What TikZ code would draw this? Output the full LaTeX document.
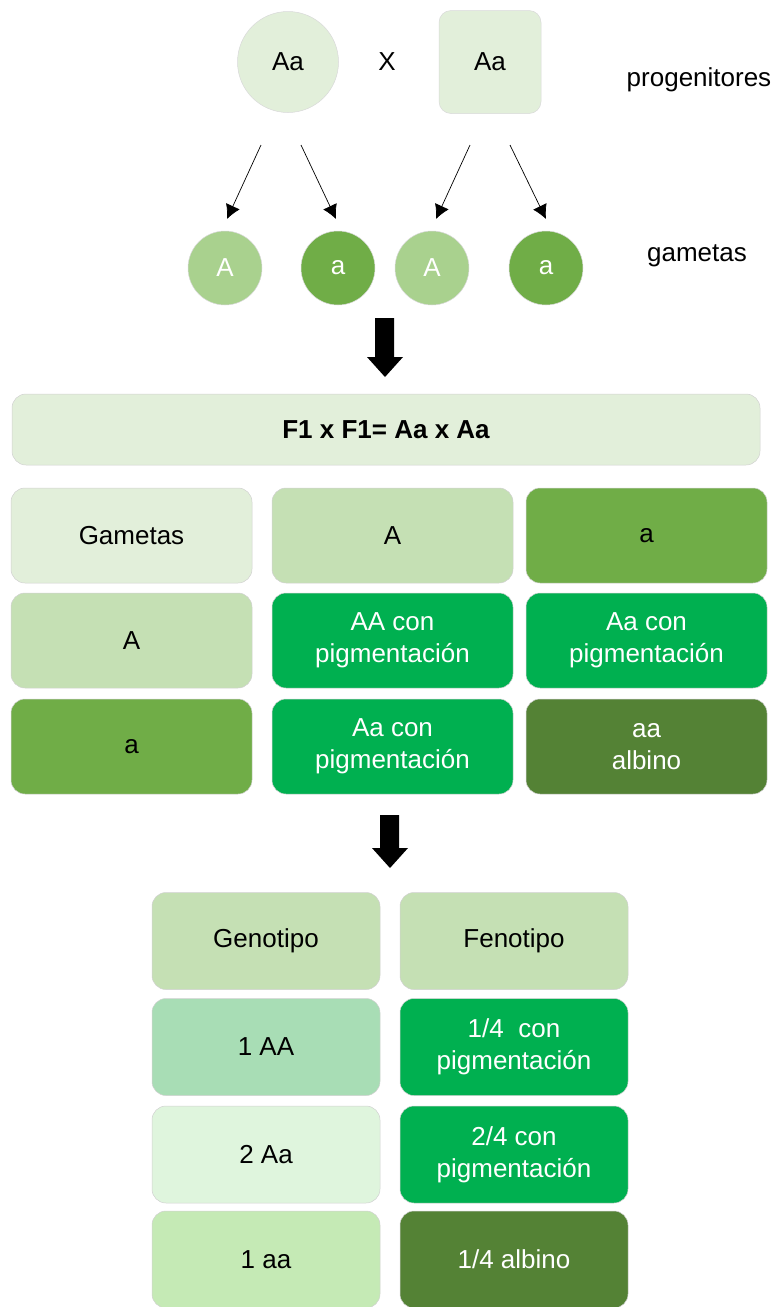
\documentclass[tikz,border=0pt]{standalone}
\usepackage{fontspec}
\setmainfont{Liberation Sans}
\usetikzlibrary{arrows.meta}
\definecolor{pale}{HTML}{E2EFDA}
\definecolor{light}{HTML}{C5E0B4}
\definecolor{mid}{HTML}{A9D18E}
\definecolor{grn}{HTML}{70AD47}
\definecolor{bright}{HTML}{00B050}
\definecolor{dark}{HTML}{548235}
\definecolor{mint}{HTML}{A8DDB5}
\definecolor{paleb}{HTML}{DFF5DD}
\definecolor{lightb}{HTML}{C5EAB5}
\begin{document}
\begin{tikzpicture}[x=1pt,y=-1pt,
  txt/.style={font=\fontsize{26}{32}\selectfont},
  box/.style={rectangle, rounded corners=14pt, draw=black!18, line width=0.5pt, inner sep=0pt, align=center, txt},
  cell/.style={box, minimum width=241pt, minimum height=95pt},
  bcell/.style={box, minimum width=228pt, minimum height=97pt},
  gam/.style={circle, draw=black!15, line width=0.5pt, minimum size=74pt, inner sep=0pt, txt, text=white},
  thin arrow/.style={line width=0.7pt, -{Latex[length=14pt,width=15pt]}},
  wtext/.style={text=white}]
\useasboundingbox (0,0) rectangle (776,1307);
% parents
\node[circle, draw=black!15, line width=0.5pt, fill=pale, minimum size=101pt, inner sep=0pt, txt] (p1) at (288,62) {Aa};
\node[txt] (x) at (387,62) {X};
\node[rectangle, rounded corners=12pt, draw=black!15, line width=0.5pt, fill=pale, minimum width=102pt, minimum height=103pt, inner sep=0pt, txt] (p2) at (490,62) {Aa};
\node[txt] (prog) at (699,80) {progenitores};
% gametes
\node[gam, fill=mid] (g1) at (225,268) {A};
\node[gam, fill=grn] (g2) at (338,268) {a};
\node[gam, fill=mid] (g3) at (432,268) {A};
\node[gam, fill=grn] (g4) at (546,268) {a};
\node[txt] (gl) at (697,256) {gametas};
% arrows
\coordinate (s1) at (261,145); \coordinate (e1) at (227,219);
\coordinate (s2) at (301,145); \coordinate (e2) at (336,219);
\coordinate (s3) at (470,145); \coordinate (e3) at (436,219);
\coordinate (s4) at (510,145); \coordinate (e4) at (546,219);
\draw[thin arrow] (s1) -- (e1);
\draw[thin arrow] (s2) -- (e2);
\draw[thin arrow] (s3) -- (e3);
\draw[thin arrow] (s4) -- (e4);
% block arrow 1
\fill[black] (375,318) -- (394,318) -- (394,357) -- (403,357) -- (385,377) -- (367,357) -- (375,357) -- cycle;
% F1 bar
\node[box, fill=pale, minimum width=748pt, minimum height=71pt, font=\fontsize{26}{31}\selectfont\bfseries] (f1) at (386,429.5) {F1 x F1= Aa x Aa};
% grid
\node[cell, fill=pale] (c11) at (131.5,535.5) {Gametas};
\node[cell, fill=light] (c12) at (392.5,535.5) {A};
\node[cell, fill=grn] (c13) at (646.5,535.5) {a};
\node[cell, fill=light] (c21) at (131.5,640.5) {A};
\node[cell, fill=bright, wtext] (c22) at (392.5,640.5) {AA con\\pigmentación};
\node[cell, fill=bright, wtext] (c23) at (646.5,640.5) {Aa con\\pigmentación};
\node[cell, fill=grn] (c31) at (131.5,746.5) {a};
\node[cell, fill=bright, wtext] (c32) at (392.5,746.5) {Aa con\\pigmentación};
\node[cell, fill=dark, wtext] (c33) at (646.5,746.5) {aa\\albino};
% block arrow 2
\fill[black] (380,815) -- (399,815) -- (399,848) -- (408,848) -- (390,868) -- (372,848) -- (380,848) -- cycle;
% bottom table
\node[bcell, fill=light] (b11) at (266,941) {Genotipo};
\node[bcell, fill=light] (b12) at (514,941) {Fenotipo};
\node[bcell, fill=mint] (b21) at (266,1047) {1 AA};
\node[bcell, fill=bright, wtext] (b22) at (514,1047) {1/4\ \ con\\pigmentación};
\node[bcell, fill=paleb] (b31) at (266,1154.5) {2 Aa};
\node[bcell, fill=bright, wtext] (b32) at (514,1154.5) {2/4 con\\pigmentación};
\node[bcell, fill=lightb] (b41) at (266,1259.5) {1 aa};
\node[bcell, fill=dark, wtext] (b42) at (514,1259.5) {1/4 albino};
\end{tikzpicture}
\end{document}
